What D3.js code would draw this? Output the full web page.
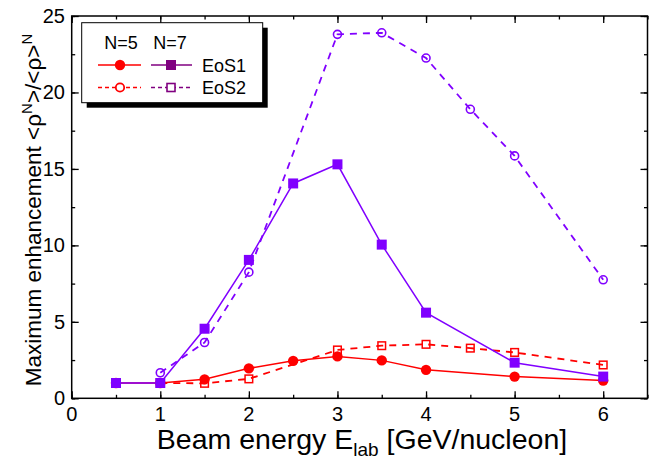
<!DOCTYPE html>
<html>
<head>
<meta charset="utf-8">
<script src="https://cdn.jsdelivr.net/npm/d3@7"></script>
<style>
  html, body { margin: 0; padding: 0; background: #fff; }
  svg { display: block; font-family: "Liberation Sans", Arial, sans-serif; }
</style>
</head>
<body>
<svg id="chart" width="654" height="464"></svg>
<script>
// Beam energies (GeV/nucleon) and maximum density-moment enhancement
const n5Eos1X = [0.5, 1, 1.5, 2, 2.5, 3, 3.5, 4, 5, 6];
const n5Eos1Y = [1.0, 1.0, 1.24, 1.96, 2.45, 2.74, 2.48, 1.86, 1.42, 1.16];

const n5Eos2X = [1, 1.5, 2, 3, 3.5, 4, 4.5, 5, 6];
const n5Eos2Y = [1.0, 0.98, 1.27, 3.16, 3.44, 3.53, 3.28, 3.0, 2.18];

const n7Eos1X = [0.5, 1, 1.5, 2, 2.5, 3, 3.5, 4, 5, 6];
const n7Eos1Y = [1.0, 1.0, 4.55, 9.05, 14.05, 15.3, 10.05, 5.6, 2.33, 1.42];

const n7Eos2X = [1, 1.5, 2, 3, 3.5, 4, 4.5, 5, 6];
const n7Eos2Y = [1.67, 3.65, 8.25, 23.8, 23.9, 22.25, 18.9, 15.85, 7.75];

const xTicks = [0, 1, 2, 3, 4, 5, 6];
const yTicks = [0, 5, 10, 15, 20, 25];

const RED = "#ff0000";
const VIOLET = "#8000ff";
const LEGEND_PURPLE = "#800080";

const svg = d3.select("#chart");
const plotLeft = 71.7, plotRight = 647.5, plotTop = 16, plotBottom = 398.3;

const x = d3.scaleLinear().domain([0, 6.5]).range([plotLeft, plotRight]);
const y = d3.scaleLinear().domain([0, 25]).range([plotBottom, plotTop]);

const zip = (xs, ys) => xs.map((v, i) => ({ x: v, y: ys[i] }));
const line = d3.line().x(d => x(d.x)).y(d => y(d.y));

// Inward-pointing axes on all four sides
const minorX = d3.range(0, 6.51, 0.5);
const minorY = d3.range(0, 25.01, 2.5);

function tickAxis(axis, tickVals, len) {
  return axis.tickValues(tickVals).tickSize(len).tickSizeOuter(0).tickFormat("");
}

const gAx = svg.append("g").attr("class", "axes");

// minor ticks
gAx.append("g").attr("transform", `translate(0,${plotBottom})`)
  .call(tickAxis(d3.axisTop(x), minorX, 3.5));
gAx.append("g").attr("transform", `translate(0,${plotTop})`)
  .call(tickAxis(d3.axisBottom(x), minorX, 3.5));
gAx.append("g").attr("transform", `translate(${plotLeft},0)`)
  .call(tickAxis(d3.axisRight(y), minorY, 3.5));
gAx.append("g").attr("transform", `translate(${plotRight},0)`)
  .call(tickAxis(d3.axisLeft(y), minorY, 3.5));

// major ticks
gAx.append("g").attr("transform", `translate(0,${plotBottom})`)
  .call(tickAxis(d3.axisTop(x), xTicks, 7));
gAx.append("g").attr("transform", `translate(0,${plotTop})`)
  .call(tickAxis(d3.axisBottom(x), xTicks, 7));
gAx.append("g").attr("transform", `translate(${plotLeft},0)`)
  .call(tickAxis(d3.axisRight(y), yTicks, 7));
gAx.append("g").attr("transform", `translate(${plotRight},0)`)
  .call(tickAxis(d3.axisLeft(y), yTicks, 7));

gAx.selectAll(".domain").remove();
gAx.selectAll(".tick line").attr("stroke", "#000").attr("stroke-width", 1.3);

// tick labels
svg.append("g").selectAll("text").data(xTicks).join("text")
  .attr("x", d => x(d)).attr("y", 421)
  .attr("text-anchor", "middle")
  .attr("font-size", 20)
  .text(d => d);

svg.append("g").selectAll("text").data(yTicks).join("text")
  .attr("x", 65).attr("y", d => y(d) + 7)
  .attr("text-anchor", "end")
  .attr("font-size", 20)
  .text(d => d);

// frame
svg.append("rect")
  .attr("x", plotLeft).attr("y", plotTop)
  .attr("width", plotRight - plotLeft).attr("height", plotBottom - plotTop)
  .attr("fill", "none").attr("stroke", "#000").attr("stroke-width", 1.5);

// series
const plot = svg.append("g");

function drawSeries(data, color, dashed, marker) {
  plot.append("path")
    .datum(data)
    .attr("d", line)
    .attr("fill", "none")
    .attr("stroke", color)
    .attr("stroke-width", dashed ? 1.8 : 1.5)
    .attr("stroke-dasharray", dashed ? "7,6" : null);

  const g = plot.append("g");
  if (marker === "filledCircle") {
    g.selectAll("circle").data(data).join("circle")
      .attr("cx", d => x(d.x)).attr("cy", d => y(d.y)).attr("r", 5.2)
      .attr("fill", color);
  } else if (marker === "openCircle") {
    g.selectAll("circle").data(data).join("circle")
      .attr("cx", d => x(d.x)).attr("cy", d => y(d.y)).attr("r", 4)
      .attr("fill", "none").attr("stroke", color).attr("stroke-width", 1.6);
  } else if (marker === "filledSquare") {
    g.selectAll("rect").data(data).join("rect")
      .attr("x", d => x(d.x) - 5).attr("y", d => y(d.y) - 5)
      .attr("width", 10).attr("height", 10)
      .attr("fill", color);
  } else if (marker === "openSquare") {
    g.selectAll("rect").data(data).join("rect")
      .attr("x", d => x(d.x) - 3.8).attr("y", d => y(d.y) - 3.8)
      .attr("width", 7.6).attr("height", 7.6)
      .attr("fill", "none").attr("stroke", color).attr("stroke-width", 1.5);
  }
}

drawSeries(zip(n5Eos2X, n5Eos2Y), RED, true, "openSquare");
drawSeries(zip(n5Eos1X, n5Eos1Y), RED, false, "filledCircle");
drawSeries(zip(n7Eos2X, n7Eos2Y), VIOLET, true, "openCircle");
drawSeries(zip(n7Eos1X, n7Eos1Y), VIOLET, false, "filledSquare");

// legend
const lg = svg.append("g");
const lx0 = 81.7, ly0 = 22.7, lw = 181, lh = 80;
lg.append("rect").attr("x", lx0 + 5).attr("y", ly0 + 5).attr("width", lw).attr("height", lh).attr("fill", "#000");
lg.append("rect").attr("x", lx0).attr("y", ly0).attr("width", lw).attr("height", lh)
  .attr("fill", "#fff").attr("stroke", "#000").attr("stroke-width", 1);

lg.append("text").attr("x", 121).attr("y", 49).attr("text-anchor", "middle").attr("font-size", 18).text("N=5");
lg.append("text").attr("x", 170).attr("y", 49).attr("text-anchor", "middle").attr("font-size", 18).text("N=7");

const legendRows = [
  { label: "EoS1", yy: 65, dashed: false },
  { label: "EoS2", yy: 87.5, dashed: true }
];
legendRows.forEach(r => {
  [[98, 141, 120, RED], [151, 192, 171, LEGEND_PURPLE]].forEach(([a, b, c, col], k) => {
    lg.append("line").attr("x1", a).attr("x2", b).attr("y1", r.yy).attr("y2", r.yy)
      .attr("stroke", col).attr("stroke-width", 1.5)
      .attr("stroke-dasharray", r.dashed ? "4,3" : null);
    if (k === 0) {
      lg.append("circle").attr("cx", c).attr("cy", r.yy).attr("r", r.dashed ? 4.2 : 5.2)
        .attr("fill", r.dashed ? "#fff" : col)
        .attr("stroke", r.dashed ? col : "none").attr("stroke-width", 1.8);
    } else {
      const s = r.dashed ? 8 : 10;
      lg.append("rect").attr("x", c - s / 2).attr("y", r.yy - s / 2).attr("width", s).attr("height", s)
        .attr("fill", r.dashed ? "#fff" : col)
        .attr("stroke", r.dashed ? col : "none").attr("stroke-width", 1.6);
    }
  });
  lg.append("text").attr("x", 202).attr("y", r.yy + 6.5).attr("font-size", 18).text(r.label);
});

// axis titles
const xt = svg.append("text").attr("x", 362).attr("y", 449).attr("text-anchor", "middle").attr("font-size", 28.5);
xt.append("tspan").text("Beam energy E");
xt.append("tspan").attr("font-size", 19).attr("dy", 7).text("lab");
xt.append("tspan").attr("dy", -7).text(" [GeV/nucleon]");

const yt = svg.append("text")
  .attr("transform", "translate(41,210) rotate(-90)")
  .attr("text-anchor", "middle").attr("font-size", 22.5);
yt.append("tspan").text("Maximum enhancement <ρ");
yt.append("tspan").attr("font-size", 15).attr("dy", -9).text("N");
yt.append("tspan").attr("dy", 9).text(">/<ρ>");
yt.append("tspan").attr("font-size", 15).attr("dy", -9).text("N");
</script>
</body>
</html>
